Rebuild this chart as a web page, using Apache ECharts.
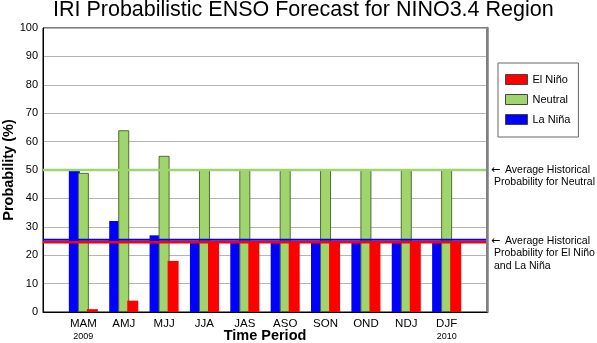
<!DOCTYPE html>
<html>
<head>
<meta charset="utf-8">
<script src="https://cdn.jsdelivr.net/npm/echarts@6/dist/echarts.min.js"></script>
<style>
  html, body { margin: 0; padding: 0; background: #fff; }
  #chart { width: 597px; height: 343px; }
</style>
</head>
<body>
<div id="chart"></div>
<script>
// Three-month forecast periods and the year printed beneath some of them
const periods = ['MAM', 'AMJ', 'MJJ', 'JJA', 'JAS', 'ASO', 'SON', 'OND', 'NDJ', 'DJF'];
const periodYears = ['2009', '', '', '', '', '', '', '', '', '2010'];

// Forecast probabilities (%) per period
const laNina  = [50, 32, 27, 25, 25, 25, 25, 25, 25, 25];
const neutral = [49, 64, 55, 50, 50, 50, 50, 50, 50, 50];
const elNino  = [1, 4, 18, 25, 25, 25, 25, 25, 25, 25];

// Climatological (historical average) probabilities
const histNeutral = 50;
const histNino = 25;
const histNina = 25;

const yTicks = [0, 10, 20, 30, 40, 50, 60, 70, 80, 90, 100];

const FONT = 'Liberation Sans, Arial, Helvetica, sans-serif';
const RED = '#ff0000';
const GREEN = '#a0d46c';
const BLUE = '#0000ff';

// Empty slots at both ends leave a half-gap margin inside the frame
const axisCats = [''].concat(periods, ['']);
const pad = v => [null].concat(v, [null]);

const chart = echarts.init(document.getElementById('chart'), null, { renderer: 'canvas' });

// Reference lines with their side notes, positioned through the value axis
const refLines = [
  { value: histNeutral, color: GREEN, width: 2.5, shift: 0,
    lines: ['Average Historical', 'Probability for Neutral'] },
  { value: histNina, color: BLUE, width: 2, shift: -1.2, lines: [] },
  { value: histNino, color: RED, width: 2.4, shift: 1.2,
    lines: ['Average Historical', 'Probability for El Ni\u00f1o', 'and La Ni\u00f1a'] }
];

function renderRef(params, api) {
  const item = refLines[params.dataIndex];
  const cs = params.coordSys;
  const y = api.coord([0, api.value(1)])[1];
  const x0 = cs.x, x1 = cs.x + cs.width;
  const children = [{
    type: 'line',
    shape: { x1: x0, y1: y + item.shift, x2: x1 - 1, y2: y + item.shift },
    style: { stroke: item.color, lineWidth: item.width }
  }];
  item.lines.forEach((t, i) => {
    if (i === 0) {
      children.push({
        type: 'text',
        style: {
          text: '\u2190', x: x1 + 4, y: y,
          fill: '#000', font: '11px DejaVu Sans',
          verticalAlign: 'middle', align: 'left'
        }
      });
    }
    children.push({
      type: 'text',
      style: {
        text: t, x: x1 + (i === 0 ? 18 : 7), y: y + i * 12.5,
        fill: '#000', font: '10.5px ' + FONT,
        verticalAlign: 'middle', align: 'left'
      }
    });
  });
  return { type: 'group', children: children };
}

const option = {
  animation: false,
  backgroundColor: '#fff',
  title: {
    text: 'IRI Probabilistic ENSO Forecast for NINO3.4 Region',
    left: 53, top: -1, padding: 0,
    textStyle: { fontFamily: FONT, fontSize: 21.5, fontWeight: 'normal', color: '#000' }
  },
  legend: {
    orient: 'vertical',
    left: 498, top: 63,
    padding: [11, 8, 12, 7],
    itemWidth: 22, itemHeight: 10, itemGap: 9,
    borderColor: '#666', borderWidth: 1,
    icon: 'rect',
    textStyle: { fontFamily: FONT, fontSize: 11, color: '#000' },
    data: [
      { name: 'El Ni\u00f1o', itemStyle: { borderColor: '#444', borderWidth: 1 } },
      { name: 'Neutral', itemStyle: { borderColor: '#444', borderWidth: 1 } },
      { name: 'La Ni\u00f1a', itemStyle: { borderColor: '#444', borderWidth: 1 } }
    ]
  },
  grid: {
    left: 43, right: 110, top: 28, bottom: 31,
    outerBoundsMode: 'none',
    containLabel: false,
    show: true, borderColor: '#000', borderWidth: 1
  },
  xAxis: {
    type: 'category',
    data: axisCats,
    boundaryGap: false,
    name: 'Time Period',
    nameLocation: 'middle',
    nameGap: 16,
    nameMoveOverlap: false,
    nameTextStyle: { fontFamily: FONT, fontSize: 14.5, fontWeight: 'bold', color: '#000', verticalAlign: 'top' },
    axisLine: { lineStyle: { color: '#000', width: 1 } },
    axisTick: { show: false },
    splitLine: { show: false },
    axisLabel: {
      interval: 0,
      margin: 5,
      formatter: (val, idx) => {
        if (!val) return '';
        const yr = periodYears[idx - 1];
        return yr ? '{p|' + val + '}\n{y|' + yr + '}' : '{p|' + val + '}';
      },
      rich: {
        p: { fontFamily: FONT, fontSize: 11.5, color: '#000', lineHeight: 14 },
        y: { fontFamily: FONT, fontSize: 9, color: '#000', lineHeight: 11 }
      },
      verticalAlign: 'top'
    }
  },
  yAxis: [{
    type: 'value',
    min: 0, max: 100, interval: 10,
    name: 'Probability (%)',
    nameLocation: 'middle',
    nameGap: 27,
    nameMoveOverlap: false,
    nameTextStyle: { fontFamily: FONT, fontSize: 14.5, fontWeight: 'bold', color: '#000' },
    axisLine: { show: true, lineStyle: { color: '#000', width: 1 } },
    axisTick: { show: false },
    axisLabel: {
      margin: 5, fontFamily: FONT, fontSize: 11, color: '#000',
      formatter: v => yTicks.indexOf(v) >= 0 ? String(v) : ''
    },
    splitLine: { show: true, lineStyle: { color: '#b4b4b4', width: 1 } }
  }, {
    type: 'value',
    min: 0, max: 100, interval: 10,
    position: 'right',
    axisLine: { show: true, lineStyle: { color: '#808080', width: 2.5 } },
    axisTick: { show: false },
    axisLabel: { show: false },
    splitLine: { show: false }
  }],
  series: [
    {
      name: 'La Ni\u00f1a', type: 'bar', data: pad(laNina),
      barWidth: 11, barGap: '-18%',
      itemStyle: { color: BLUE }
    },
    {
      name: 'Neutral', type: 'bar', data: pad(neutral),
      barWidth: 11, barGap: '-18%',
      itemStyle: { color: GREEN, borderColor: '#4f6e30', borderWidth: 1 }
    },
    {
      name: 'El Ni\u00f1o', type: 'bar', data: pad(elNino),
      barWidth: 11, barGap: '-18%',
      itemStyle: { color: RED }
    },
    {
      type: 'custom',
      clip: false,
      z: 5,
      renderItem: renderRef,
      data: refLines.map((r, i) => [i, r.value]),
      silent: true
    }
  ]
};

chart.setOption(option);
</script>
</body>
</html>
